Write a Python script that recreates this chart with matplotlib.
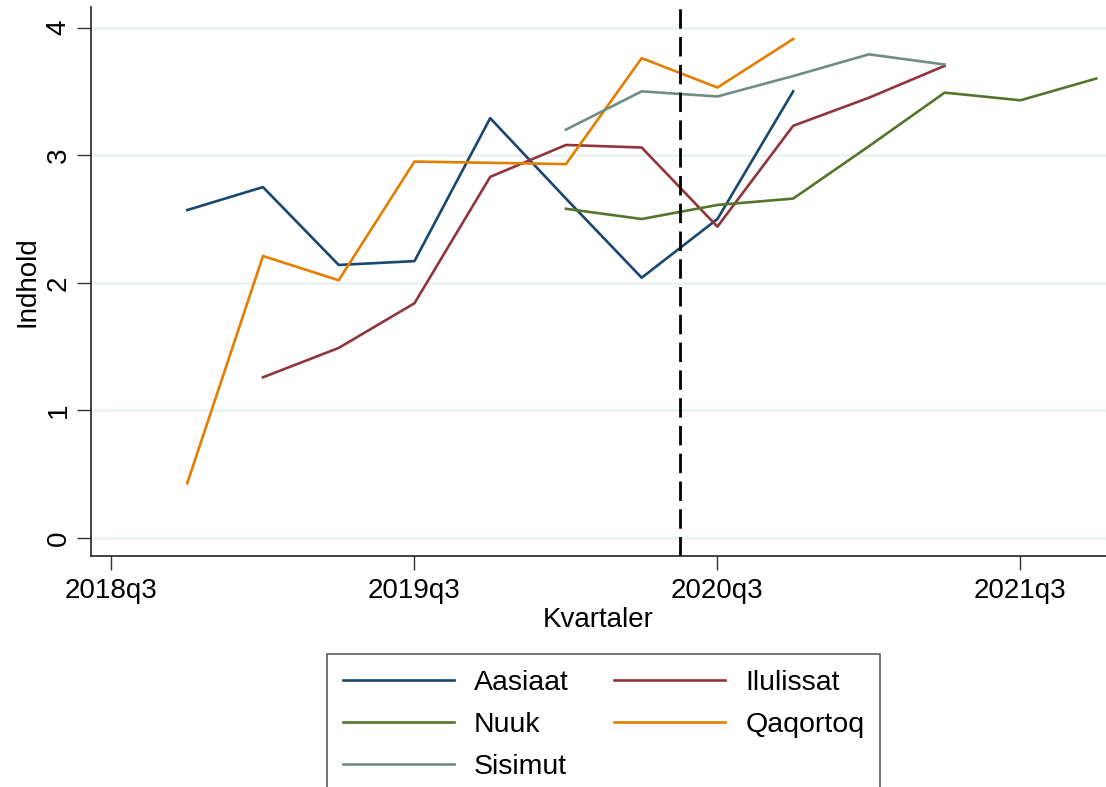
import numpy as np
import matplotlib
matplotlib.use("Agg")
import matplotlib.pyplot as plt

plt.rcParams["font.family"] = ["Liberation Sans", "DejaVu Sans"]

# kvartaler, 2018q3 .. 2021q4
quarters = ["2018q3", "2018q4", "2019q1", "2019q2", "2019q3", "2019q4", "2020q1",
            "2020q2", "2020q3", "2020q4", "2021q1", "2021q2", "2021q3", "2021q4"]
nan = np.nan
aasiaat = [nan, 2.57, 2.75, 2.14, 2.17, 3.29, 2.66, 2.04, 2.50, 3.50, nan, nan, nan, nan]
ilulissat = [nan, nan, 1.26, 1.49, 1.84, 2.83, 3.08, 3.06, 2.44, 3.23, 3.45, 3.70, nan, nan]
nuuk = [nan, nan, nan, nan, nan, nan, 2.58, 2.50, 2.61, 2.66, 3.07, 3.49, 3.43, 3.60]
qaqortoq = [nan, 0.43, 2.21, 2.02, 2.95, 2.94, 2.93, 3.76, 3.53, 3.91, nan, nan, nan, nan]
sisimut = [nan, nan, nan, nan, nan, nan, 3.20, 3.50, 3.46, 3.62, 3.79, 3.71, nan, nan]

series = [
    ("Aasiaat", aasiaat, "#1a476f"),
    ("Ilulissat", ilulissat, "#90353b"),
    ("Nuuk", nuuk, "#55752f"),
    ("Qaqortoq", qaqortoq, "#e37e00"),
    ("Sisimut", sisimut, "#6e8e84"),
]
cutoff = 7.5  # mellem 2020q2 og 2020q3

x = np.arange(len(quarters))

fig = plt.figure(figsize=(11.06, 7.87), dpi=100)
ax = fig.add_axes([0.0823, 0.2935, 0.9177, 0.697])

lines = {}
for name, vals, col in series:
    lines[name], = ax.plot(x, vals, color=col, lw=1.9, label=name)

ax.axvline(cutoff, color="black", lw=2, dashes=(7, 3))

ax.set_xlim(-0.27, 13.13)
ax.set_ylim(-0.14, 4.157)
ax.set_yticks([0, 1, 2, 3, 4])
ax.set_yticklabels(["0", "1", "2", "3", "4"], rotation=90, va="center")
xt = [0, 4, 8, 12]
ax.set_xticks(xt)
ax.set_xticklabels([quarters[i] for i in xt])
ax.tick_params(axis="both", labelsize=20, length=10, width=1, color="#333333", pad=6)
ax.tick_params(axis="y", pad=4)
ax.grid(axis="y", color="#eaf2f3", lw=2)
ax.set_axisbelow(True)

for s in ["top", "right"]:
    ax.spines[s].set_visible(False)
for s in ["left", "bottom"]:
    ax.spines[s].set_color("#222222")
    ax.spines[s].set_linewidth(1.2)

ax.set_xlabel("Kvartaler", fontsize=20, labelpad=2)
ax.set_ylabel("Indhold", fontsize=20, labelpad=4)

# rækkevis rækkefølge i legenden (matplotlib fylder kolonnevis)
order = ["Aasiaat", "Nuuk", "Sisimut", "Ilulissat", "Qaqortoq"]
leg = fig.legend([lines[n] for n in order], order,
                 loc="upper center", bbox_to_anchor=(0.5457, 0.169), ncol=2,
                 fontsize=20.5, frameon=True, fancybox=False, edgecolor="#333333",
                 handlelength=3.9, handletextpad=0.7, columnspacing=1.6,
                 labelspacing=0.57, borderpad=0.55, borderaxespad=0)
leg.get_frame().set_linewidth(1.2)

fig.savefig("out.png", dpi=100)
